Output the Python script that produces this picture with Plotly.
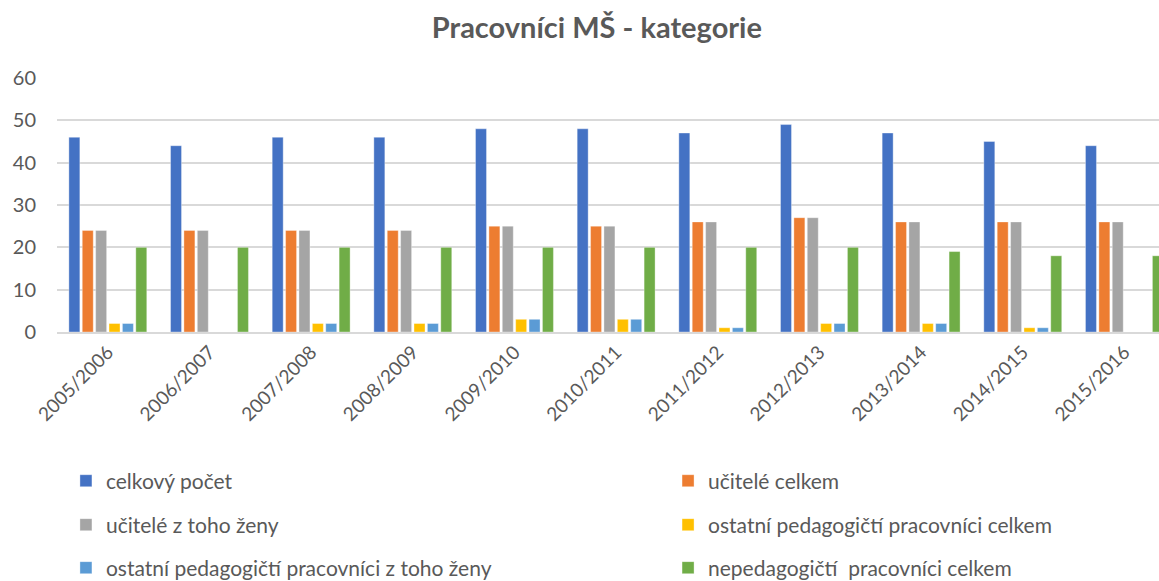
import plotly.graph_objects as go

# skolni roky
years = ["2005/2006", "2006/2007", "2007/2008", "2008/2009", "2009/2010", "2010/2011",
         "2011/2012", "2012/2013", "2013/2014", "2014/2015", "2015/2016"]

celkovy_pocet = [46, 44, 46, 46, 48, 48, 47, 49, 47, 45, 44]
ucitele_celkem = [24, 24, 24, 24, 25, 25, 26, 27, 26, 26, 26]
ucitele_zeny = [24, 24, 24, 24, 25, 25, 26, 27, 26, 26, 26]
ostatni_ped_celkem = [2, 0, 2, 2, 3, 3, 1, 2, 2, 1, 0]
ostatni_ped_zeny = [2, 0, 2, 2, 3, 3, 1, 2, 2, 1, 0]
nepedagogicti = [20, 20, 20, 20, 20, 20, 20, 20, 19, 18, 18]

series = [
    ("celkový počet", celkovy_pocet, "#4472C4"),
    ("učitelé celkem", ucitele_celkem, "#ED7D31"),
    ("učitelé z toho ženy", ucitele_zeny, "#A5A5A5"),
    ("ostatní pedagogičtí pracovníci celkem", ostatni_ped_celkem, "#FFC000"),
    ("ostatní pedagogičtí pracovníci z toho ženy", ostatni_ped_zeny, "#5B9BD5"),
    ("nepedagogičtí  pracovníci celkem", nepedagogicti, "#70AD47"),
]

FONT = "Lato, Open Sans, sans-serif"
GREY = "#595959"

fig = go.Figure()
legend_ids = ["legend", "legend2", "legend3", "legend4", "legend5", "legend6"]
for (name, vals, color), leg in zip(series, legend_ids):
    fig.add_trace(go.Bar(
        x=years, y=vals, name=name,
        marker=dict(color=color, line=dict(color="rgba(255,255,255,0.35)", width=1)),
        legend=leg,
    ))

# each entry gets its own legend -> 2 columns x 3 rows like in excel
# (container coords so the legends don't push the margins around)
col_x = [0.0569, 0.5764]
row_y = [0.172, 0.0964, 0.0224]
legends = {}
for i, leg in enumerate(legend_ids):
    legends[leg] = dict(
        orientation="h", xanchor="left", yanchor="middle",
        xref="container", yref="container",
        x=col_x[i % 2], y=row_y[i // 2],
        font=dict(family=FONT, size=21, color=GREY),
        itemwidth=30, bgcolor="rgba(0,0,0,0)",
    )

fig.update_layout(
    width=1159, height=581,
    margin=dict(l=57, r=0, t=78, b=249, autoexpand=False),
    paper_bgcolor="white", plot_bgcolor="white",
    showlegend=True,
    title=dict(text="<b>Pracovníci MŠ - kategorie</b>", x=0.515, xanchor="center",
               y=0.952, yanchor="middle",
               font=dict(family=FONT, size=29, color=GREY)),
    barmode="group", bargap=0.21, bargroupgap=0.18,
    xaxis=dict(
        type="category", range=[-0.5, 10.34], automargin=False,
        tickangle=-45, showgrid=False, ticks="",
        showline=True, linecolor="#d9d9d9", linewidth=1.5,
        tickfont=dict(family=FONT, size=19, color=GREY),
    ),
    yaxis=dict(
        range=[0, 60], dtick=10, showgrid=True, gridcolor="#d9d9d9", gridwidth=1.5,
        zeroline=False, ticks="", ticklabelstandoff=20, automargin=False,
        tickfont=dict(family=FONT, size=20, color=GREY),
    ),
    **legends,
)

# the page body has an 8px default margin, drop it so the chart sits at 0,0
fig.write_html("out.html", config={"displayModeBar": False},
               post_script="document.body.style.margin='0';")
